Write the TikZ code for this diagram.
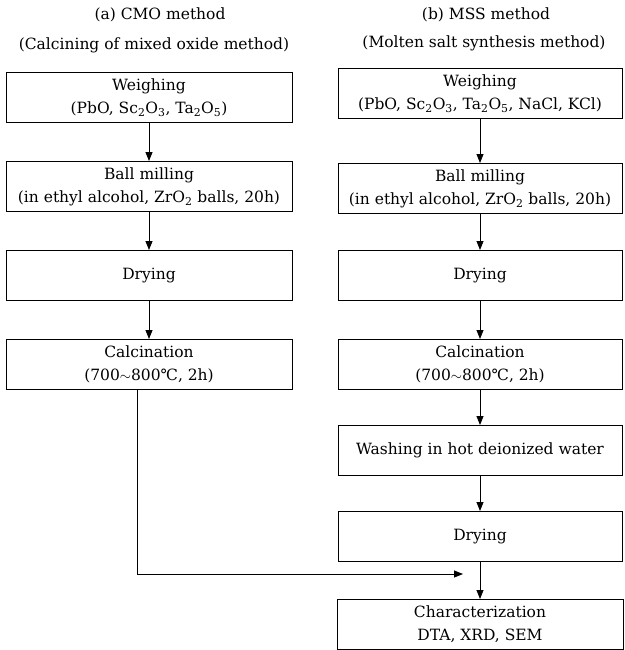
\documentclass[tikz,border=0pt]{standalone}
\usepackage{fontspec}
\setmainfont{DejaVu Serif}
\usetikzlibrary{arrows.meta,positioning}
\tikzset{proc/.style={draw,line width=1pt,minimum width=286pt,minimum height=50pt,inner sep=0pt,align=center,font=\fontsize{15.5}{23}\selectfont},
         title/.style={font=\fontsize{15.5}{18}\selectfont},}
\tikzstyle{arrow} = [line width=0.8pt,-{Triangle[length=9pt,width=7pt]}]
\newcommand{\sub}[1]{\textsubscript{#1}}

\begin{document}
\begin{tikzpicture}[x=1pt,y=-1pt]
    \useasboundingbox (0,0) rectangle (624,650);

    \node[title] (ta) at (160,15) {(a) CMO method};
    \node[title] (ta2) at (154,45) {(Calcining of mixed oxide method)};
    \node[title] (tb) at (486,15) {(b) MSS method};
    \node[title] (tb2) at (484,43) {(Molten salt synthesis method)};

    % CMO column
    \node[proc,anchor=north] (a1) at (149,72) {Weighing\\(PbO, Sc\sub{2}O\sub{3}, Ta\sub{2}O\sub{5})};
    \node[proc] (a2)[below=38pt of a1] {Ball milling\\(in ethyl alcohol, ZrO\sub{2} balls, 20h)};
    \node[proc] (a3)[below=38pt of a2] {Drying};
    \node[proc] (a4)[below=38pt of a3] {Calcination\\(700$\sim$800℃, 2h)};

    % MSS column
    \node[proc,minimum width=284pt,anchor=north] (b1) at (480,68) {Weighing\\(PbO, Sc\sub{2}O\sub{3}, Ta\sub{2}O\sub{5}, NaCl, KCl)};
    \node[proc,minimum width=284pt] (b2)[below=44pt of b1] {Ball milling\\(in ethyl alcohol, ZrO\sub{2} balls, 20h)};
    \node[proc,minimum width=284pt] (b3)[below=36pt of b2] {Drying};
    \node[proc,minimum width=284pt] (b4)[below=38pt of b3] {Calcination\\(700$\sim$800℃, 2h)};
    \node[proc,minimum width=284pt] (b5)[below=35pt of b4] {Washing in hot deionized water};
    \node[proc,minimum width=284pt] (b6)[below=35pt of b5] {Drying};
    \node[proc] (b7)[below=37pt of b6] {Characterization\\DTA, XRD, SEM};

    \coordinate (mj) at (463,574);

    \draw [arrow] (a1) -- (a2);
    \draw [arrow] (a2) -- (a3);
    \draw [arrow] (a3) -- (a4);
    \draw [arrow] ([xshift=-12pt]a4.south) |- (mj);

    \draw [arrow] (b1) -- (b2);
    \draw [arrow] (b2) -- (b3);
    \draw [arrow] (b3) -- (b4);
    \draw [arrow] (b4) -- (b5);
    \draw [arrow] (b5) -- (b6);
    \draw [arrow] (b6) -- (b7);

\end{tikzpicture}
\end{document}
